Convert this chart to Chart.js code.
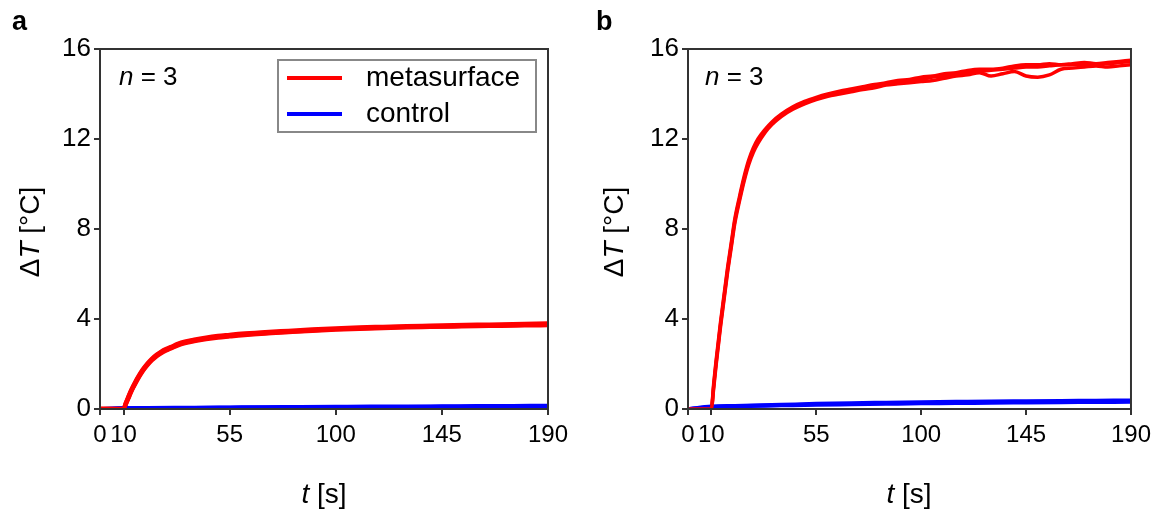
<!DOCTYPE html>
<html>
<head>
<meta charset="utf-8">
<script src="https://cdn.jsdelivr.net/npm/chart.js@4.4.0/dist/chart.umd.min.js"></script>
<style>
body { margin:0; width:1157px; height:515px; background:#fff; position:relative; overflow:hidden;
       font-family:"Liberation Sans", Arial, sans-serif; color:#000; }
.panel { position:absolute; top:0; height:515px; }
#pa { left:0; width:578px; }
#pb { left:578px; width:579px; }
.txt { position:absolute; white-space:nowrap; line-height:1; }
.letter { font-weight:bold; font-size:27px; }
.ytitle { font-size:28px; transform:translate(-50%,-50%) rotate(-90deg); }
.xtitle { font-size:28px; transform:translate(-50%,-50%); }
.nlab { font-size:26px; }
</style>
</head>
<body>
<div class="panel" id="pa"><canvas id="chartA" width="578" height="515"></canvas></div>
<div class="panel" id="pb"><canvas id="chartB" width="579" height="515"></canvas></div>

<div class="txt letter" style="left:12px;top:8px">a</div>
<div class="txt letter" style="left:596px;top:8px">b</div>
<div class="txt ytitle" style="left:30px;top:232px">Δ<i>T</i> [°C]</div>
<div class="txt ytitle" style="left:614px;top:232px">Δ<i>T</i> [°C]</div>
<div class="txt xtitle" style="left:324px;top:494px"><i>t</i> [s]</div>
<div class="txt xtitle" style="left:909px;top:494px"><i>t</i> [s]</div>
<div class="txt nlab" style="left:119px;top:63px"><i>n</i> = 3</div>
<div class="txt nlab" style="left:705px;top:63px"><i>n</i> = 3</div>

<script>
// tick labels
var xTicks = [0, 10, 55, 100, 145, 190]
var yTicks = [0, 4, 8, 12, 16]

// panel a, time in s
var tA = [0,10,11,12,13,14,15,16,18,20,22,24,26,28,30,33,36,40,45,50,55,60,70,80,90,100,110,120,130,140,150,160,170,180,190]
var metaA1 = [0,0,0.25,0.5,0.75,0.97,1.17,1.36,1.7,1.97,2.2,2.38,2.52,2.63,2.72,2.86,2.96,3.05,3.14,3.21,3.26,3.31,3.38,3.44,3.5,3.55,3.59,3.62,3.65,3.67,3.69,3.71,3.72,3.74,3.76]
var metaA2 = [0,0,0.27,0.53,0.78,1.0,1.2,1.39,1.73,2.0,2.23,2.41,2.55,2.66,2.75,2.89,2.99,3.08,3.17,3.24,3.29,3.34,3.41,3.47,3.53,3.58,3.62,3.65,3.68,3.7,3.72,3.74,3.76,3.78,3.8]
var metaA3 = [0,0,0.23,0.47,0.72,0.94,1.14,1.33,1.67,1.94,2.17,2.35,2.49,2.6,2.69,2.83,2.93,3.02,3.11,3.18,3.23,3.28,3.36,3.42,3.48,3.53,3.57,3.6,3.63,3.65,3.67,3.69,3.7,3.72,3.73]
var tC = [0,10,20,40,55,70,85,100,115,130,145,160,175,190]
var ctrlA1 = [0,0.04,0.05,0.06,0.07,0.08,0.08,0.09,0.1,0.1,0.11,0.12,0.12,0.13]
var ctrlA2 = [0,0.05,0.06,0.07,0.08,0.09,0.1,0.11,0.12,0.12,0.13,0.14,0.15,0.16]
var ctrlA3 = [0,0.03,0.04,0.05,0.06,0.07,0.07,0.08,0.08,0.09,0.1,0.1,0.11,0.11]

// panel b
var tB = [0,10,11,12,13,14,15,16,17,18,19,20,22,24,26,28,30,33,36,40,45,50,55,60,65,70,75,80,85,90,95,100,105,110,115,120,125,130,135,140,145,150,155,160,165,170,175,180,185,190]
var metaB1 = [0,0,1.0,2.0,2.9,3.8,4.6,5.4,6.2,6.9,7.6,8.3,9.3,10.2,10.95,11.5,11.9,12.35,12.7,13.05,13.38,13.62,13.8,13.95,14.05,14.15,14.25,14.35,14.45,14.5,14.6,14.65,14.75,14.8,14.9,14.95,15.0,15.05,15.1,15.15,15.2,15.2,15.25,15.3,15.3,15.3,15.35,15.35,15.4,15.45]
var metaB2 = [0,0,1.1,2.1,3.0,3.9,4.7,5.5,6.3,7.0,7.7,8.4,9.4,10.3,11.05,11.6,12.0,12.42,12.76,13.1,13.43,13.67,13.85,14.0,14.12,14.22,14.32,14.42,14.5,14.6,14.65,14.75,14.8,14.9,14.95,15.05,15.1,15.1,15.15,15.25,15.3,15.3,15.35,15.3,15.35,15.4,15.35,15.4,15.45,15.5]
var metaB3 = [0,0,0.9,1.9,2.8,3.7,4.5,5.3,6.1,6.8,7.5,8.2,9.2,10.1,10.85,11.4,11.8,12.28,12.64,13.0,13.32,13.56,13.75,13.9,14.0,14.1,14.2,14.28,14.4,14.45,14.5,14.55,14.6,14.7,14.8,14.85,14.95,14.8,14.9,15.0,14.8,14.75,14.85,15.1,15.15,15.2,15.25,15.2,15.25,15.3]
var ctrlB1 = [0,0.08,0.11,0.15,0.18,0.2,0.22,0.24,0.25,0.27,0.28,0.29,0.3,0.31]
var ctrlB2 = [0,0.1,0.13,0.17,0.21,0.23,0.25,0.27,0.29,0.31,0.32,0.33,0.34,0.35]
var ctrlB3 = [0,0.12,0.15,0.2,0.24,0.27,0.29,0.31,0.33,0.35,0.36,0.37,0.38,0.39]

var RED = '#ff0000'
var BLUE = '#0000ff'
var AXIS = '#333333'
var FONT = '"Liberation Sans", Arial, sans-serif'

function pts(t, v) {
    var out = []
    for (var i = 0; i < t.length; i++) out.push({x: t[i], y: v[i]})
    return out
}

function ds(label, color, t, v, w) {
    return {
        label: label,
        data: pts(t, v),
        borderColor: color,
        backgroundColor: color,
        borderWidth: w,
        pointRadius: 0,
        cubicInterpolationMode: 'monotone',
        fill: false
    }
}

// box around the plot area
var frame = {
    id: 'frame',
    afterDraw: function (chart) {
        var a = chart.chartArea, c = chart.ctx
        c.save()
        c.strokeStyle = AXIS
        c.lineWidth = 2
        c.strokeRect(a.left, a.top, a.right - a.left, a.bottom - a.top)
        c.restore()
    }
}

// boxed legend inside the plot (panel a only)
var boxLegend = {
    id: 'boxLegend',
    afterDraw: function (chart, args, opts) {
        if (!opts.show) return
        var a = chart.chartArea, c = chart.ctx
        var seen = [], items = []
        chart.data.datasets.forEach(function (d) {
            if (seen.indexOf(d.label) < 0) { seen.push(d.label); items.push(d) }
        })
        var bx = a.right - 270, by = a.top + 11, bw = 258, bh = 72
        c.save()
        c.fillStyle = '#fff'
        c.fillRect(bx, by, bw, bh)
        c.strokeStyle = '#888'
        c.lineWidth = 2
        c.strokeRect(bx, by, bw, bh)
        c.font = '28px ' + FONT
        c.textBaseline = 'middle'
        items.forEach(function (d, i) {
            var y = by + 18 + i * 36
            c.strokeStyle = d.borderColor
            c.lineWidth = 4
            c.beginPath()
            c.moveTo(bx + 9, y)
            c.lineTo(bx + 64, y)
            c.stroke()
            c.fillStyle = '#000'
            c.fillText(d.label, bx + 88, y)
        })
        c.restore()
    }
}

function grafico(id, datasets, yWidth, padRight, legend) {
    var ctx = document.getElementById(id).getContext('2d')
    return new Chart(ctx, {
        type: 'line',
        data: { datasets: datasets },
        options: {
            responsive: false,
            animation: false,
            layout: { padding: { top: 49, right: padRight, left: 0, bottom: 0 } },
            plugins: {
                legend: { display: false },
                tooltip: { enabled: false },
                boxLegend: { show: legend }
            },
            scales: {
                x: {
                    type: 'linear',
                    min: 0,
                    max: 190,
                    afterBuildTicks: function (s) { s.ticks = xTicks.map(function (v) { return {value: v} }) },
                    afterFit: function (s) { s.height = 106 },
                    grid: { drawOnChartArea: false, drawTicks: true, tickLength: 6, color: AXIS, lineWidth: 2 },
                    border: { display: true, color: AXIS, width: 2 },
                    ticks: { autoSkip: false, maxRotation: 0, padding: 6, color: '#000',
                             font: { size: 24, family: FONT } }
                },
                y: {
                    min: 0,
                    max: 16,
                    afterBuildTicks: function (s) { s.ticks = yTicks.map(function (v) { return {value: v} }) },
                    afterFit: function (s) { s.width = yWidth },
                    grid: { drawOnChartArea: false, drawTicks: true, tickLength: 6, color: AXIS, lineWidth: 2 },
                    border: { display: true, color: AXIS, width: 2 },
                    ticks: { padding: 3, color: '#000',
                             font: { size: 26, family: FONT } }
                }
            }
        },
        plugins: [frame, boxLegend]
    })
}

grafico('chartA', [
    ds('metasurface', RED, tA, metaA1, 4.5),
    ds('control', BLUE, tC, ctrlA1, 3.5),
    ds('control', BLUE, tC, ctrlA2, 3.5),
    ds('control', BLUE, tC, ctrlA3, 3.5),
    ds('metasurface', RED, tA, metaA2, 4.5),
    ds('metasurface', RED, tA, metaA3, 4.5)
], 100, 30, true)

grafico('chartB', [
    ds('metasurface', RED, tB, metaB1, 3.5),
    ds('control', BLUE, tC, ctrlB1, 3.5),
    ds('control', BLUE, tC, ctrlB2, 3.5),
    ds('control', BLUE, tC, ctrlB3, 3.5),
    ds('metasurface', RED, tB, metaB2, 3.5),
    ds('metasurface', RED, tB, metaB3, 3.5)
], 110, 26, false)
</script>
</body>
</html>
